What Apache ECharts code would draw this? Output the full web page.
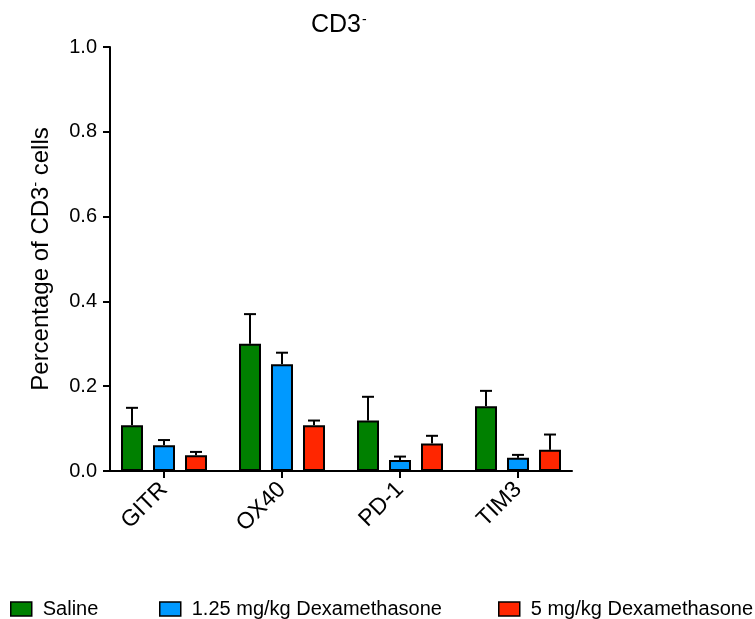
<!DOCTYPE html>
<html>
<head>
<meta charset="utf-8">
<script src="https://cdn.jsdelivr.net/npm/echarts@6/dist/echarts.min.js"></script>
<style>html,body{margin:0;padding:0;background:#fff}#c{width:755px;height:619px}</style>
</head>
<body>
<div id="c"></div>
<script>
const categories = ['GITR', 'OX40', 'PD-1', 'TIM3'];
const seriesNames = ['Saline', '1.25 mg/kg Dexamethasone', '5 mg/kg Dexamethasone'];
const salineMean = [0.108, 0.300, 0.119, 0.153];
const salineSD   = [0.041, 0.070, 0.056, 0.036];
const lowMean    = [0.061, 0.252, 0.026, 0.031];
const lowSD      = [0.012, 0.027, 0.008, 0.007];
const highMean   = [0.037, 0.108, 0.065, 0.050];
const highSD     = [0.008, 0.011, 0.018, 0.036];
const yTicks = [0, 0.2, 0.4, 0.6, 0.8, 1.0];

const colors = ['#008000', '#0099ff', '#ff2600'];
const FONT = 'Liberation Sans, Arial, sans-serif';
const BAR_W = 22, BAR_GAP = 10;
const X_PAD = 0.4576; // axis end padding, in category units

const means = [salineMean, lowMean, highMean];
const sds = [salineSD, lowSD, highSD];
const catIdx = categories.map((c, k) => k);

const chart = echarts.init(document.getElementById('c'));

const barSeries = seriesNames.map((n, i) => ({
  name: n,
  type: 'bar',
  data: means[i].map((m, k) => [k, m]),
  barWidth: BAR_W,
  barGap: (BAR_GAP / BAR_W * 100) + '%',
  itemStyle: { color: colors[i], borderColor: '#000', borderWidth: 2 },
  z: 2
}));

const errSeries = seriesNames.map((n, i) => ({
  name: n + ' err',
  type: 'custom',
  z: 1,
  data: means[i].map((m, k) => [k, m, sds[i][k]]),
  encode: { x: 0, y: 1 },
  renderItem: function (params, api) {
    const k = api.value(0);
    const off = (i - 1) * (BAR_W + BAR_GAP);
    const cx = api.coord([k, 0])[0] + off;
    const yb = api.coord([k, api.value(1)])[1];
    const yt = api.coord([k, api.value(1) + api.value(2)])[1];
    const st = { stroke: '#000', lineWidth: 2 };
    return {
      type: 'group',
      children: [
        { type: 'line', shape: { x1: cx, y1: yb, x2: cx, y2: yt }, style: st },
        { type: 'line', shape: { x1: cx - 6, y1: yt, x2: cx + 6, y2: yt }, style: st }
      ]
    };
  }
}));

const legendLefts = [5, 154, 493];
const legends = seriesNames.map((n, i) => ({
  data: [{ name: n, icon: 'rect' }],
  left: legendLefts[i],
  top: 594,
  itemWidth: 21,
  itemHeight: 14,
  textStyle: { color: '#000', fontSize: 20, fontFamily: FONT, padding: [0, 0, 0, 6] },
  itemStyle: { borderColor: '#000', borderWidth: 1.5 }
}));

chart.setOption({
  animation: false,
  title: {
    text: '{a|CD3}{b|-}',
    left: 306,
    top: 8,
    textStyle: {
      rich: {
        a: { fontSize: 25, fontFamily: FONT, color: '#000', fontWeight: 'normal' },
        b: { fontSize: 14, fontFamily: FONT, color: '#000', fontWeight: 'normal', verticalAlign: 'top', padding: [0, 0, 0, 1] }
      }
    }
  },
  legend: legends,
  grid: { left: 110, right: 183, top: 47, bottom: 148 },
  xAxis: {
    type: 'value',
    min: -X_PAD,
    max: categories.length - 1 + X_PAD,
    splitLine: { show: false },
    axisLine: { show: true, onZero: false, lineStyle: { color: '#000', width: 2 } },
    axisTick: { show: true, customValues: catIdx, length: 7, lineStyle: { color: '#000', width: 2 } },
    axisLabel: {
      customValues: catIdx,
      rotate: 45, fontSize: 23, fontFamily: FONT, color: '#000', margin: 15,
      formatter: v => categories[Math.round(v)]
    }
  },
  yAxis: {
    type: 'value',
    min: yTicks[0],
    max: yTicks[yTicks.length - 1],
    interval: 0.2,
    splitLine: { show: false },
    axisLine: { show: true, onZero: false, lineStyle: { color: '#000', width: 2 } },
    axisTick: { show: true, length: 7, lineStyle: { color: '#000', width: 2 } },
    axisLabel: { fontSize: 20, fontFamily: FONT, color: '#000', margin: 13, formatter: v => v.toFixed(1) },
    name: '{a|Percentage of CD3}{b|-}{a| cells}',
    nameLocation: 'middle',
    nameGap: 57,
    nameRotate: 90,
    nameTextStyle: {
      rich: {
        a: { fontSize: 24, fontFamily: FONT, color: '#000' },
        b: { fontSize: 14, fontFamily: FONT, color: '#000', verticalAlign: 'top' }
      }
    }
  },
  series: barSeries.concat(errSeries)
});
</script>
</body>
</html>
